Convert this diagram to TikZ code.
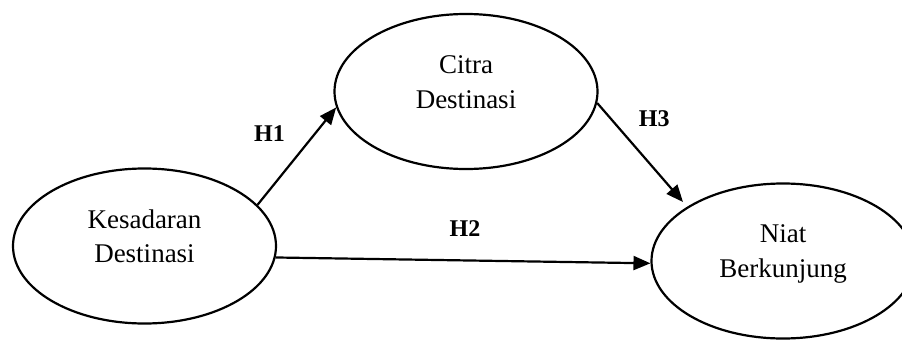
\documentclass[tikz,border=0pt]{standalone}
\usepackage{fontspec}
\setmainfont{Liberation Serif}
\usetikzlibrary{shapes.geometric,arrows.meta}
\begin{document}
\begin{tikzpicture}[x=1pt,y=-1pt,
  ell/.style={draw,line width=2.2pt,ellipse,minimum width=263pt,minimum height=155pt,inner sep=0pt},
  lbl/.style={anchor=base,inner sep=0pt,font=\fontsize{27}{34}\selectfont},
  hyp/.style={anchor=base,inner sep=0pt,font=\fontsize{24}{28}\selectfont\bfseries},
  arr/.style={line width=2.2pt,-{Triangle[length=17pt,width=14pt]}}]
\useasboundingbox (0,0) rectangle (902,340);
\node[ell] (k) at (144.5,246) {};
\node[ell] (c) at (466,91.5) {};
\node[ell] (n) at (783,261) {};
\node[lbl] (k1) at (144.5,228) {Kesadaran};
\node[lbl] (k2) at (144.5,262) {Destinasi};
\node[lbl] (c1) at (466,73.5) {Citra};
\node[lbl] (c2) at (466,108) {Destinasi};
\node[lbl] (n1) at (783,242) {Niat};
\node[lbl] (n2) at (783,277) {Berkunjung};
\coordinate (h3end) at (683,202);
\draw[arr] (k.20.4) -- (c.187.5);
\draw[arr] (k.-5.7) -- (n.181.7);
\draw[arr] (c.-5) -- (h3end);
\node[hyp] (h1) at (269.5,141.7) {H1};
\node[hyp] (h2) at (465,236.7) {H2};
\node[hyp] (h3) at (654.3,126) {H3};
\end{tikzpicture}
\end{document}
